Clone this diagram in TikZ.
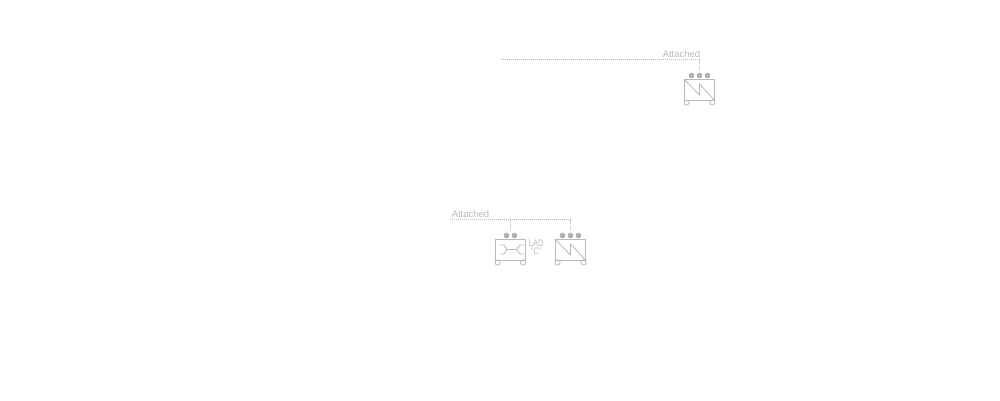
\documentclass[tikz,border=0pt]{standalone}
\usepackage{fontspec}
\setmainfont{Liberation Sans}
\usetikzlibrary{positioning}
\definecolor{cartgray}{RGB}{185,185,185}
\definecolor{dotgray}{RGB}{175,175,175}
\tikzset{
    cartbox/.style={draw=cartgray, line width=0.9pt, minimum width=30.5pt, minimum height=21pt, inner sep=0pt},
    cartdot/.style={circle, fill=dotgray, minimum size=5.6pt, inner sep=0pt},
    cartwheel/.style={circle, draw=cartgray, line width=0.8pt, minimum size=5.2pt, inner sep=0pt},
    attachline/.style={draw=cartgray, line width=0.9pt, dash pattern=on 1pt off 1pt, shorten >=2pt},
    attachlabel/.style={text=cartgray, font=\fontsize{9.5}{10}\selectfont, inner sep=0pt},
    iconline/.style={draw=cartgray, line width=0.8pt}
}
\begin{document}
\begin{tikzpicture}[x=1pt,y=-1pt]
    \useasboundingbox (0,0) rectangle (1000,400);

    % upper cart
    \node[cartbox] (cartA) at (699.5,90) {};
    \node[cartdot] (dotAa) at (691.5,75.5) {};
    \node[cartdot] (dotAb) at (699.5,75.5) {};
    \node[cartdot] (dotAc) at (707.5,75.5) {};
    \node[cartwheel] (wheelAa) at (686.5,102.5) {};
    \node[cartwheel] (wheelAb) at (712.5,102.5) {};
    \draw[iconline] (cartA.north west) -- (699.5,95) -- (699.5,84) -- (cartA.south east);
    \node[attachlabel] (labelA) at (681.5,54) {Attached};
    \coordinate (startA) at (501,59.5);
    \coordinate (bendA) at (699.5,59.5);
    \draw[attachline] (startA) -- (bendA) -- (dotAb.north);

    % lower carts
    \node[cartbox] (cartB) at (510.5,250) {};
    \node[cartdot] (dotBa) at (506.5,235.5) {};
    \node[cartdot] (dotBb) at (514.5,235.5) {};
    \node[cartwheel] (wheelBa) at (497.5,262.5) {};
    \node[cartwheel] (wheelBb) at (523,262.5) {};
    \draw[iconline] (500,245) -- (504,245) -- (507,249.5) -- (504,254) -- (500,254);
    \draw[iconline] (507,249.5) -- (516.5,249.5);
    \draw[iconline] (524,245) -- (520,245) -- (516.5,249.5) -- (520,254) -- (524,254);
    \node[attachlabel, right=2.5pt of cartB.east, yshift=2.5pt, xscale=0.8, align=center, font=\fontsize{9.5}{8.5}\selectfont] (labelC) {LAD\\"C"};

    \node[cartbox] (cartC) at (570.5,250) {};
    \node[cartdot] (dotCa) at (562.5,235.5) {};
    \node[cartdot] (dotCb) at (570.5,235.5) {};
    \node[cartdot] (dotCc) at (578.5,235.5) {};
    \node[cartwheel] (wheelCa) at (557.5,262.5) {};
    \node[cartwheel] (wheelCb) at (583.5,262.5) {};
    \draw[iconline] (cartC.north west) -- (570.5,255) -- (570.5,244) -- (cartC.south east);

    \node[attachlabel] (labelB) at (470.5,214) {Attached};
    \coordinate (startB) at (450,219.5);
    \coordinate (bendB) at (510.5,219.5);
    \coordinate (bendC) at (570.5,219.5);
    \draw[attachline] (startB) -- (bendC) -- (dotCb.north);
    \draw[attachline] (bendB) -- (bendB |- dotBa.north);
\end{tikzpicture}
\end{document}
